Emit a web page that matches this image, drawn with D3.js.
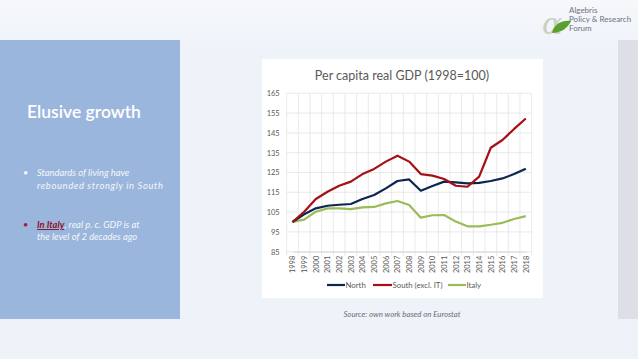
<!DOCTYPE html>
<html><head><meta charset="utf-8">
<script src="https://cdn.jsdelivr.net/npm/d3@7"></script>
<style>
html,body{margin:0;padding:0;width:638px;height:359px;overflow:hidden;}
svg{display:block;}
</style></head>
<body>
<script>
const years = ["1998","1999","2000","2001","2002","2003","2004","2005","2006","2007","2008","2009","2010","2011","2012","2013","2014","2015","2016","2017","2018"];
const north = [100,103.9,106.9,108.2,108.7,109.1,111.6,113.6,117,120.7,121.5,115.8,118.2,120.4,120,119.5,119.8,120.7,122,124.2,126.9];
const south = [100,105.2,111.6,115.3,118.3,120.4,124.2,126.8,130.5,133.5,130.5,124.2,123.4,121.7,118.3,117.8,122.9,137.5,141.4,147,152.3];
const italy = [100,101.2,105.2,106.9,106.9,106.5,107.4,107.6,109.4,110.6,108.6,102.2,103.4,103.5,100.2,97.8,97.8,98.6,99.6,101.5,103];
const yTicks = [85,95,105,115,125,135,145,155,165];
const seriesNames = ["North","South (excl. IT)","Italy"];
const seriesColors = ["#0d2650","#a50f15","#9bbb59"];

const W=638,H=359;
const svg=d3.select("body").append("svg").attr("width",W).attr("height",H);
const defs=svg.append("defs");
const g=defs.append("linearGradient").attr("id","bg").attr("x1",0).attr("y1",0).attr("x2",0).attr("y2",1);
g.append("stop").attr("offset","0").attr("stop-color","#f6f8fb");
g.append("stop").attr("offset","0.15").attr("stop-color","#eef2f9");
g.append("stop").attr("offset","1").attr("stop-color","#eef2f9");
svg.append("rect").attr("width",W).attr("height",H).attr("fill","url(#bg)");

// right grey strip
svg.append("rect").attr("x",618).attr("y",40).attr("width",20).attr("height",279).attr("fill","#dcdfe5");
// left panel
svg.append("rect").attr("x",0).attr("y",40).attr("width",180).attr("height",279).attr("fill","#9bb6dc");

const font="Lato, 'Open Sans', sans-serif";
svg.append("text").attr("x",27).attr("y",118).attr("font-family",font).attr("font-size",17.5).attr("font-weight",600)
  .attr("fill","#ffffff").text("Elusive growth");

function bullet(y, color){
  svg.append("text").attr("x",23).attr("y",y).attr("font-family",font).attr("font-size",9).attr("fill",color).text("•");
}
bullet(176,"#f2f4f8");
const t1=svg.append("text").attr("font-family",font).attr("font-size",9.4).attr("font-style","italic").attr("fill","#f4f6fa");
t1.append("tspan").attr("x",37).attr("y",176).text("Standards of living have");
t1.append("tspan").attr("x",37).attr("y",189).attr("textLength",126).text("rebounded strongly in South");
bullet(228,"#9b1b30");
const t2=svg.append("text").attr("font-family",font).attr("font-size",9.4).attr("font-style","italic").attr("fill","#f4f6fa")
  .attr("xml:space","preserve").style("white-space","pre");
const l1=t2.append("tspan").attr("x",37).attr("y",228);
l1.append("tspan").attr("fill","#8b1428").attr("font-weight",700).attr("text-decoration","underline").text("In Italy");
l1.append("tspan").text(", real p. c. GDP is at");
t2.append("tspan").attr("x",37).attr("y",240).text("the level of 2 decades ago");

// logo
const logo=svg.append("g");
logo.append("text").attr("x",542).attr("y",34).attr("font-family","'DejaVu Serif', serif").attr("font-size",30).attr("fill","#c9d2c0").attr("font-style","italic").text("α");
logo.append("path").attr("d","M552,33 C554,24 562,20 571,21 C568,28 561,33 552,33 Z").attr("fill","#5aa02c");
const lt=logo.append("text").attr("font-family",font).attr("font-size",8).attr("fill","#6c7280");
lt.append("tspan").attr("x",569).attr("y",13).text("Algebris");
lt.append("tspan").attr("x",569).attr("y",22).text("Policy & Research");
lt.append("tspan").attr("x",569).attr("y",31).text("Forum");

// chart box
svg.append("rect").attr("x",262).attr("y",59).attr("width",281).attr("height",239).attr("fill","#ffffff");

svg.append("text").attr("x",402).attr("y",80).attr("text-anchor","middle").attr("font-family",font).attr("font-size",12.5)
  .attr("fill","#595959").text("Per capita real GDP (1998=100)");

const x=d3.scalePoint().domain(years).range([292.5,525.8]);
const step=x.step();
const y=d3.scaleLinear().domain([85,165]).range([251.7,93.3]);

const grid=svg.append("g");
grid.selectAll("line.h").data(yTicks).join("line").attr("x1",286.7).attr("x2",531.6)
  .attr("y1",d=>y(d)).attr("y2",d=>y(d)).attr("stroke","#e4e4e4").attr("stroke-width",0.8);
const bounds=d3.range(years.length+1).map(i=>292.5-step/2+i*step);
grid.selectAll("line.v").data(bounds).join("line").attr("x1",d=>d).attr("x2",d=>d)
  .attr("y1",y(165)).attr("y2",y(85)+4).attr("stroke","#e4e4e4").attr("stroke-width",0.8);

const yAxis=svg.append("g").attr("transform","translate(286.7,0)")
  .call(d3.axisLeft(y).tickValues(yTicks).tickSize(0).tickPadding(7));
yAxis.select(".domain").remove();
yAxis.selectAll("text").attr("font-family",font).attr("font-size",7.5).attr("fill","#595959");

const xAxis=svg.append("g").attr("transform",`translate(0,${y(85)})`)
  .call(d3.axisBottom(x).tickSize(0).tickPadding(0));
xAxis.select(".domain").attr("stroke","#d9d9d9");
xAxis.selectAll("text").attr("font-family",font).attr("font-size",7.5).attr("fill","#595959")
  .attr("transform","rotate(-90)").attr("text-anchor","end").attr("dx","-4").attr("dy","0.32em").attr("y",0).attr("x",0);

const line=d3.line().x((d,i)=>x(years[i])).y(d=>y(d));
const data=[north,south,italy];
svg.append("g").selectAll("path").data([2,0,1]).join("path")
  .attr("d",i=>line(data[i])).attr("fill","none").attr("stroke",i=>seriesColors[i]).attr("stroke-width",2.2)
  .attr("stroke-linejoin","round");

// legend
const leg=[{x:327,tx:345},{x:373,tx:392},{x:448,tx:466}];
seriesNames.forEach((n,i)=>{
  svg.append("line").attr("x1",leg[i].x).attr("x2",leg[i].tx).attr("y1",285).attr("y2",285).attr("stroke",seriesColors[i]).attr("stroke-width",2.2);
  svg.append("text").attr("x",leg[i].tx+0.5).attr("y",287.8).attr("font-family",font).attr("font-size",7.8).attr("fill","#595959").text(n);
});

svg.append("text").attr("x",402).attr("y",317).attr("text-anchor","middle").attr("font-family",font).attr("font-size",7.8)
  .attr("font-style","italic").attr("fill","#6b6f78").text("Source: own work based on Eurostat");
</script>
</body></html>
